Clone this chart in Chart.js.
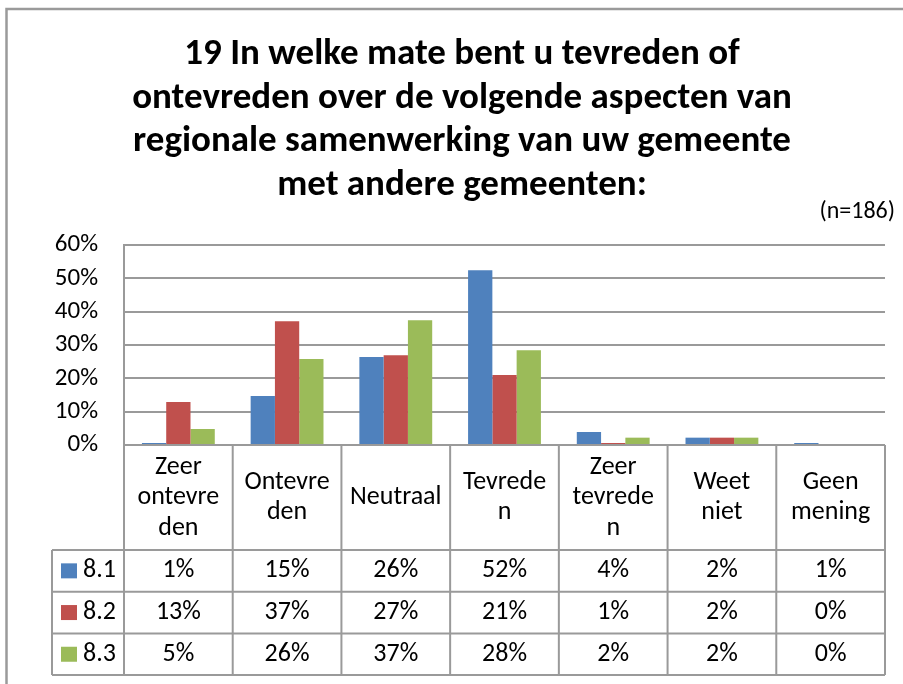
<!DOCTYPE html>
<html>
<head>
<meta charset="utf-8">
<script src="https://cdn.jsdelivr.net/npm/chart.js@4.4.0/dist/chart.umd.min.js"></script>
<style>
  html, body { margin: 0; padding: 0; background: #fff; }
  canvas { display: block; }
</style>
</head>
<body>
<canvas id="satisfactionChart" width="903" height="684"></canvas>
<script>
// Categories as shown (wrapped like in the original table header)
const categories = [
  "Zeer\nontevre\nden",
  "Ontevre\nden",
  "Neutraal",
  "Tevrede\nn",
  "Zeer\ntevrede\nn",
  "Weet\nniet",
  "Geen\nmening"
];

const seriesNames = ["8.1", "8.2", "8.3"];
const seriesColors = ["#4F81BD", "#C0504D", "#9BBB59"];

// Percentages
const values81 = [0.6, 14.7, 26.4, 52.4, 3.9, 2.2, 0.6];
const values82 = [12.9, 37.1, 26.9, 21.0, 0.6, 2.2, 0];
const values83 = [4.8, 25.8, 37.4, 28.4, 2.2, 2.2, 0];

const yTicks = [0, 10, 20, 30, 40, 50, 60];

const titleLines = [
  "19 In welke mate bent u tevreden of",
  "ontevreden over de volgende aspecten van",
  "regionale samenwerking van uw gemeente",
  "met andere gemeenten:"
];
const sampleNote = "(n=186)";

const FONT = "Carlito, Lato, 'Liberation Sans', sans-serif";
const GRID = "#9a9a9a";

// Draws the title, outer frame and the data table below the plot
const tablePlugin = {
  id: "dataTable",
  afterDraw(chart) {
    const ctx = chart.ctx;
    const area = chart.chartArea;
    const xScale = chart.scales.x;
    const n = categories.length;
    const colW = (area.right - area.left) / n;

    ctx.save();
    // outer frame
    ctx.strokeStyle = GRID;
    ctx.lineWidth = 2.5;
    ctx.beginPath();
    ctx.moveTo(6.5, 690);
    ctx.lineTo(6.5, 9);
    ctx.lineTo(910, 9);
    ctx.stroke();

    // title
    ctx.fillStyle = "#000";
    ctx.textAlign = "center";
    ctx.textBaseline = "middle";
    ctx.font = "bold 37px " + FONT;
    titleLines.forEach((line, i) => {
      ctx.fillText(line, 462, 55 + i * 43.5);
    });
    ctx.font = "24px " + FONT;
    ctx.textAlign = "right";
    ctx.fillText(sampleNote, 895, 212);

    // table geometry
    const headTop = area.bottom;
    const headBottom = 550;
    const rowH = 41.7;
    const legendLeft = 52;
    const tableBottom = headBottom + rowH * seriesNames.length;

    ctx.strokeStyle = GRID;
    ctx.lineWidth = 2;
    ctx.beginPath();
    for (let i = 0; i <= n; i++) {
      const x = area.left + i * colW;
      ctx.moveTo(x, headTop);
      ctx.lineTo(x, tableBottom);
    }
    ctx.moveTo(legendLeft, headBottom);
    ctx.lineTo(legendLeft, tableBottom);
    for (let r = 0; r <= seriesNames.length; r++) {
      const y = headBottom + r * rowH;
      ctx.moveTo(legendLeft, y);
      ctx.lineTo(area.right, y);
    }
    ctx.stroke();

    // header labels
    ctx.fillStyle = "#000";
    ctx.textAlign = "center";
    ctx.font = "26px " + FONT;
    const headMid = (headTop + headBottom) / 2;
    categories.forEach((label, i) => {
      const lines = label.split("\n");
      const cx = xScale.getPixelForValue(i);
      lines.forEach((line, j) => {
        const y = headMid + (j - (lines.length - 1) / 2) * 30.5;
        ctx.fillText(line, cx, y);
      });
    });

    // data rows
    chart.data.datasets.forEach((ds, r) => {
      const cy = headBottom + r * rowH + rowH / 2;
      ctx.fillStyle = seriesColors[r];
      ctx.fillRect(61, cy - 7.5, 16, 15);
      ctx.fillStyle = "#000";
      ctx.textAlign = "left";
      ctx.fillText(seriesNames[r], 83, cy);
      ctx.textAlign = "center";
      ds.data.forEach((v, i) => {
        ctx.fillText(Math.round(v) + "%", xScale.getPixelForValue(i), cy);
      });
    });
    ctx.restore();
  }
};

const ctx = document.getElementById("satisfactionChart").getContext("2d");
new Chart(ctx, {
  type: "bar",
  data: {
    labels: categories.map(c => c.replace(/\n/g, "")),
    datasets: [
      { label: seriesNames[0], data: values81, backgroundColor: seriesColors[0] },
      { label: seriesNames[1], data: values82, backgroundColor: seriesColors[1] },
      { label: seriesNames[2], data: values83, backgroundColor: seriesColors[2] }
    ]
  },
  options: {
    responsive: false,
    animation: false,
    devicePixelRatio: 1,
    layout: { padding: { left: 0, top: 245, right: 18, bottom: 239 } },
    datasets: {
      bar: { categoryPercentage: 0.67, barPercentage: 1.0 }
    },
    plugins: {
      legend: { display: false },
      title: { display: false },
      tooltip: { enabled: false }
    },
    scales: {
      x: { display: false },
      y: {
        min: 0,
        max: 60,
        afterBuildTicks: (scale) => { scale.ticks = yTicks.map(v => ({ value: v })); },
        afterFit: (scale) => { scale.width = 124; },
        ticks: {
          color: "#000",
          padding: 26,
          font: { family: FONT, size: 25 },
          callback: (v) => v + "%"
        },
        grid: { color: GRID, lineWidth: 2, drawTicks: false },
        border: { display: true, color: GRID, width: 2 }
      }
    }
  },
  plugins: [tablePlugin]
});
</script>
</body>
</html>
